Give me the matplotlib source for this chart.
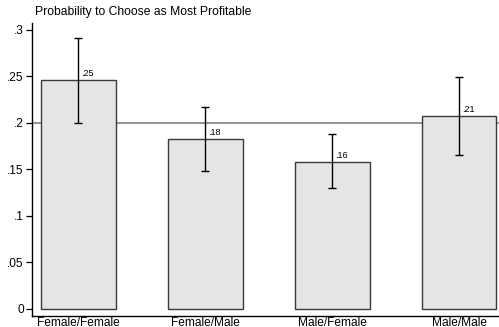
import matplotlib
matplotlib.use("Agg")
import matplotlib.pyplot as plt
import numpy as np

categories = ["Female/Female", "Female/Male", "Male/Female", "Male/Male"]
values = [0.246, 0.182, 0.158, 0.207]
ci_low = [0.200, 0.148, 0.130, 0.165]
ci_high = [0.291, 0.217, 0.188, 0.249]
value_labels = [".25", ".18", ".16", ".21"]
yticks = [0, 0.05, 0.1, 0.15, 0.2, 0.25, 0.3]
ytick_labels = ["0", ".05", ".1", ".15", ".2", ".25", ".3"]
ref_value = 0.2
title = "Probability to Choose as Most Profitable"

plt.rcParams['font.family'] = ['Liberation Sans', 'DejaVu Sans']

fig = plt.figure(figsize=(4.99, 3.27), dpi=100)
W, H = 499, 327
left_px, right_px, top_px, bot_px = 32, 499, 23, 316
ax = fig.add_axes([left_px / W, 1 - bot_px / H, (right_px - left_px) / W, (bot_px - top_px) / H])

x = np.arange(len(categories))
ax.axhline(ref_value, color="#808080", lw=1.2, zorder=1)
ax.bar(x, values, width=0.59, color="#e5e5e5", edgecolor="#3a3a3a", linewidth=1.0, zorder=2)
vals = np.array(values)
yerr = np.vstack([vals - np.array(ci_low), np.array(ci_high) - vals])
ax.errorbar(x, vals, yerr=yerr, fmt="none", ecolor="black", elinewidth=1.0,
            capsize=3.2, capthick=1.0, zorder=3)
for xi, v, lab in zip(x, values, value_labels):
    ax.text(xi + 0.025, v + 0.002, lab, fontsize=6.5, ha="left", va="bottom", zorder=4)

ax.set_xlim(-0.366, 3.315)
ax.set_ylim(-0.008, 0.307)
ax.set_yticks(yticks)
ax.set_yticklabels(ytick_labels, fontsize=8.6)
ax.set_xticks(x)
ax.set_xticklabels(categories, fontsize=8.6)
ax.tick_params(axis="x", length=0, pad=0.5)
ax.tick_params(axis="y", length=4, width=0.9, pad=2)
for s in ["top", "right"]:
    ax.spines[s].set_visible(False)
ax.spines["left"].set_linewidth(1.0)
ax.spines["bottom"].set_linewidth(1.0)

fig.text(35 / W, 1 - 12 / H, title, fontsize=8.7, ha="left", va="center")

fig.savefig("out.png", dpi=100)
